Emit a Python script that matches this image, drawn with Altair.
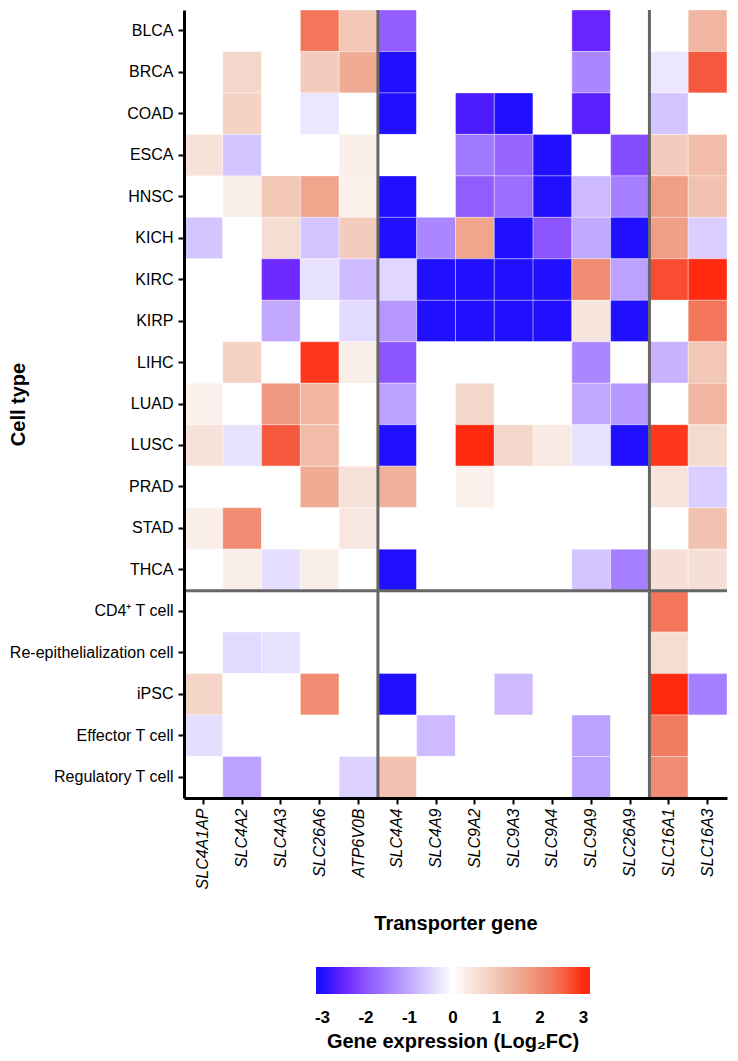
import altair as alt
import pandas as pd

genes = ["SLC4A1AP", "SLC4A2", "SLC4A3", "SLC26A6", "ATP6V0B",
         "SLC4A4", "SLC4A9", "SLC9A2", "SLC9A3", "SLC9A4", "SLC9A9", "SLC26A9",
         "SLC16A1", "SLC16A3"]

cell_types = ["BLCA", "BRCA", "COAD", "ESCA", "HNSC", "KICH", "KIRC", "KIRP",
              "LIHC", "LUAD", "LUSC", "PRAD", "STAD", "THCA",
              "CD4⁺ T cell", "Re-epithelialization cell", "iPSC",
              "Effector T cell", "Regulatory T cell"]

# Log2FC per cell type, in gene order (0 = not shown / white)
blca = [0, 0, 0, 2.3, 1.0, -1.9, 0, 0, 0, 0, -2.5, 0, 0, 1.3]
brca = [0, 0.7, 0, 0.9, 1.5, -3.1, 0, 0, 0, 0, -1.4, 0, -0.3, 2.6]
coad = [0, 0.8, 0, -0.3, 0, -3.1, 0, -2.7, -3.1, 0, -2.6, 0, -0.7, 0]
esca = [0.5, -0.7, 0, 0, 0.3, 0, 0, -1.6, -1.8, -3.1, 0, -2.1, 0.9, 1.2]
hnsc = [0, 0.3, 1.0, 1.6, 0.25, -3.1, 0, -1.9, -1.7, -3.1, -0.8, -1.5, 1.7, 1.1]
kich = [-0.7, 0, 0.6, -0.7, 0.9, -3.1, -1.4, 1.6, -3.1, -2.0, -1.0, -3.1, 1.7, -0.6]
kirc = [0, 0, -2.45, -0.35, -0.8, -0.5, -3.1, -3.1, -3.1, -3.1, 2.0, -1.1, 2.7, 3.2]
kirp = [0, 0, -1.0, 0, -0.45, -1.2, -3.1, -3.1, -3.1, -3.1, 0.45, -3.1, 0, 2.3]
lihc = [0, 0.8, 0, 2.9, 0.3, -2.0, 0, 0, 0, 0, -1.4, 0, -0.9, 1.0]
luad = [0.25, 0, 1.8, 1.3, 0, -1.1, 0, 0.7, 0, 0, -1.0, -1.2, 0, 1.3]
lusc = [0.5, -0.35, 2.6, 1.2, 0, -3.1, 0, 3.2, 0.7, 0.35, -0.35, -3.1, 2.9, 0.65]
prad = [0, 0, 0, 1.5, 0.5, 1.4, 0, 0.25, 0, 0, 0, 0, 0.45, -0.6]
stad = [0.3, 2.0, 0, 0, 0.4, 0, 0, 0, 0, 0, 0, 0, 0, 1.1]
thca = [0, 0.3, -0.4, 0.3, 0, -3.1, 0, 0, 0, 0, -0.7, -1.5, 0.55, 0.55]
cd4_t = [0, 0, 0, 0, 0, 0, 0, 0, 0, 0, 0, 0, 2.3, 0]
re_epi = [0, -0.45, -0.35, 0, 0, 0, 0, 0, 0, 0, 0, 0, 0.6, 0]
ipsc = [0.75, 0, 0, 2.0, 0, -3.1, 0, 0, -0.8, 0, 0, 0, 3.2, -1.5]
effector_t = [-0.4, 0, 0, 0, 0, 0, -0.8, 0, 0, 0, -1.1, 0, 2.2, 0]
regulatory_t = [0, -1.1, 0, 0, -0.55, 1.1, 0, 0, 0, 0, -1.1, 0, 2.0, 0]

matrix = [blca, brca, coad, esca, hnsc, kich, kirc, kirp, lihc, luad, lusc,
          prad, stad, thca, cd4_t, re_epi, ipsc, effector_t, regulatory_t]

v_dividers = ["SLC4A4", "SLC16A1"]
h_dividers = ["CD4⁺ T cell"]

legend_ticks = [-3, -2, -1, 0, 1, 2, 3]
color_domain = [-3.15, -3, -2.5, -2, -1.5, -1, -0.5, 0, 0.5, 1, 1.5, 2, 2.5, 3, 3.15]
color_range = ["#2010ff", "#2010ff", "#6a24ff", "#8c55ff", "#a57fff", "#c2a9ff", "#e0d6ff",
               "#ffffff", "#f6e2d9", "#f2c7b6", "#f0ab94", "#ef8c72", "#f5654a",
               "#ff2a10", "#ff2a10"]

rows = []
for ct, vals in zip(cell_types, matrix):
    for g, v in zip(genes, vals):
        rows.append({"cell": ct, "gene": g, "value": v})
df = pd.DataFrame(rows)

W = 543
H = 788
FONT = "Liberation Sans"

x_enc = alt.X("gene:N", sort=genes,
              scale=alt.Scale(paddingInner=0, paddingOuter=0),
              axis=alt.Axis(title="Transporter gene", labelAngle=-90,
                            labelFontStyle="italic", labelFontSize=16,
                            labelColor="black", labelPadding=4,
                            domainColor="black", domainWidth=3,
                            tickColor="black", tickWidth=2, tickSize=6,
                            titleFontSize=20, titleFontWeight="bold",
                            titleColor="black", titleBaseline="alphabetic",
                            titleY=131, titleX=W / 2, titleAlign="center"))
y_enc = alt.Y("cell:N", sort=cell_types,
              scale=alt.Scale(paddingInner=0, paddingOuter=0),
              axis=alt.Axis(title="Cell type", labelFontSize=16,
                            labelColor="black", labelPadding=5, labelLimit=300,
                            domainColor="black", domainWidth=3,
                            tickColor="black", tickWidth=2, tickSize=6,
                            titleFontSize=20, titleFontWeight="bold",
                            titleColor="black", titleAngle=-90,
                            titleBaseline="bottom", titleAlign="center",
                            titleX=-156, titleY=H / 2))

heat = alt.Chart(df).mark_rect(stroke="white", strokeWidth=0.6, strokeOpacity=0.6).encode(
    x=x_enc,
    y=y_enc,
    color=alt.Color("value:Q",
                    scale=alt.Scale(domain=color_domain, range=color_range,
                                    interpolate="rgb", clamp=True),
                    legend=alt.Legend(title="Gene expression (Log₂FC)",
                                      orient="none", direction="horizontal",
                                      legendX=132, legendY=957,
                                      gradientLength=274, gradientThickness=27,
                                      values=legend_ticks,
                                      labelExpr="datum.value < 0 ? '-' + abs(datum.value) : datum.label",
                                      labelFontSize=17, labelFontWeight="bold",
                                      labelColor="black", labelOffset=16,
                                      titleOrient="bottom", titleAnchor="middle",
                                      titleFontSize=20, titleFontWeight="bold",
                                      titleColor="black", titlePadding=6,
                                      titleLimit=400)),
)

vrule = alt.Chart(pd.DataFrame({"gene": v_dividers})).mark_rule(
    color="#666666", strokeWidth=3).encode(
    x=alt.X("gene:N", sort=genes, bandPosition=0),
    y=alt.value(0), y2=alt.value(H))

hrule = alt.Chart(pd.DataFrame({"cell": h_dividers})).mark_rule(
    color="#666666", strokeWidth=3).encode(
    y=alt.Y("cell:N", sort=cell_types, bandPosition=0),
    x=alt.value(0), x2=alt.value(W))

chart = alt.layer(heat, vrule, hrule).properties(
    width=W, height=H,
    padding={"left": 0, "top": 0, "right": 0, "bottom": 0},
).configure(font=FONT).configure_view(strokeWidth=0)

chart.save("out.html", embed_options={"renderer": "svg", "actions": False})
